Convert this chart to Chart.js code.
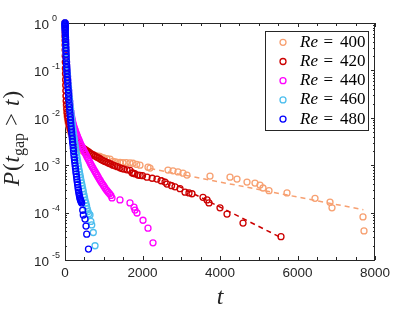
<!DOCTYPE html>
<html>
<head>
<meta charset="utf-8">
<script src="https://cdn.jsdelivr.net/npm/chart.js@4.4.1/dist/chart.umd.min.js"></script>
<style>
  html, body { margin: 0; padding: 0; background: #fff; }
  canvas { display: block; }
</style>
</head>
<body>
<canvas id="chart" width="415" height="312"></canvas>
<script>
// survival data: [t, P(t_gap > t)]
const re400 = [[0,1],[1,0.75],[2,0.58],[3,0.45],[4,0.35],[5,0.27],[6,0.21],[8,0.15],[10,0.11],[12,0.085],[14,0.066],[17,0.05],[20,0.038],[24,0.029],[28,0.022],[33,0.018],[39,0.015],[46,0.0125],[55,0.0106],[65,0.0093],[77,0.0082],[90,0.0073],[105,0.0065],[120,0.0058],[137,0.0052],[155,0.0047],[175,0.0043],[197,0.0039],[220,0.0036],[245,0.0033],[272,0.003],[300,0.0028],[330,0.0026],[360,0.0024],[392,0.0022],[425,0.0021],[460,0.002],[500,0.0019],[550,0.0018],[600,0.0017],[660,0.00165],[723,0.0016],[800,0.00157],[850,0.00155],[903,0.00153],[960,0.00145],[1000,0.00142],[1080,0.00138],[1161,0.00134],[1239,0.0012],[1300,0.00117],[1350,0.00115],[1420,0.00114],[1497,0.00113],[1580,0.00113],[1677,0.00112],[1755,0.0011],[1850,0.00104],[1935,0.001],[2142,0.00091],[2194,0.00087],[2658,0.00079],[2787,0.00076],[2916,0.00072],[3045,0.00068],[3148,0.00062],[3742,0.00059],[4258,0.00056],[4439,0.00051],[4697,0.00044],[4903,0.00042],[5032,0.00038],[5110,0.00033],[5265,0.00029],[5729,0.00026],[6452,0.0002],[6839,0.000166],[6890,0.000126],[7690,0.000081],[7716,0.000041]];
const re420 = [[0,1],[1,0.8],[2,0.65],[3,0.52],[4,0.42],[5,0.34],[6,0.27],[8,0.2],[10,0.15],[12,0.11],[14,0.085],[17,0.063],[20,0.048],[24,0.037],[28,0.029],[33,0.023],[39,0.019],[46,0.0155],[55,0.013],[65,0.011],[77,0.0096],[90,0.0084],[105,0.0074],[120,0.0066],[137,0.0059],[155,0.0053],[175,0.0048],[197,0.0044],[220,0.0041],[245,0.0038],[272,0.0035],[300,0.0032],[330,0.003],[360,0.0028],[392,0.0026],[425,0.0024],[460,0.0023],[495,0.0022],[530,0.0021],[570,0.002],[610,0.0019],[650,0.0018],[690,0.00172],[735,0.00164],[780,0.00156],[830,0.00148],[880,0.0014],[930,0.00132],[980,0.00125],[1030,0.0012],[1080,0.00115],[1130,0.0011],[1180,0.00106],[1239,0.001],[1290,0.00097],[1350,0.00093],[1419,0.00088],[1470,0.00085],[1520,0.00083],[1600,0.0008],[1677,0.00078],[1729,0.00069],[1760,0.00068],[1800,0.00066],[1884,0.00062],[1940,0.00061],[2000,0.0006],[2116,0.00056],[2250,0.00053],[2374,0.00051],[2480,0.00047],[2581,0.00044],[2632,0.0004],[2750,0.00037],[2839,0.00035],[2968,0.00032],[3097,0.00027],[3200,0.00026],[3277,0.00025],[3561,0.00021],[3665,0.000185],[3716,0.00016],[4000,0.000126],[4181,0.000093],[4594,0.00006],[5574,0.000031]];
const re440 = [[0,1],[1,0.95],[2,0.9],[3,0.85],[4,0.8],[6,0.72],[8,0.65],[10,0.58],[13,0.5],[16,0.43],[19,0.37],[23,0.31],[27,0.26],[31,0.22],[36,0.18],[41,0.15],[47,0.125],[53,0.105],[60,0.088],[67,0.074],[74,0.062],[82,0.052],[90,0.044],[98,0.037],[106,0.031],[115,0.026],[124,0.022],[133,0.0185],[142,0.0157],[152,0.0135],[163,0.0117],[175,0.0102],[188,0.009],[202,0.008],[217,0.0072],[232,0.0065],[248,0.0059],[265,0.0054],[282,0.0049],[300,0.0045],[320,0.0041],[340,0.0037],[360,0.0034],[380,0.0031],[402,0.0028],[424,0.0026],[446,0.0024],[468,0.0022],[490,0.002],[513,0.00185],[536,0.0017],[560,0.00155],[584,0.00142],[608,0.0013],[632,0.00119],[656,0.00109],[680,0.001],[705,0.00092],[730,0.00085],[755,0.00078],[780,0.00072],[806,0.00066],[832,0.00061],[858,0.00056],[885,0.00051],[912,0.00047],[940,0.00043],[968,0.0004],[996,0.00037],[1025,0.00034],[1055,0.00031],[1085,0.00029],[1115,0.00027],[1150,0.00025],[1185,0.00023],[1213,0.000204],[1419,0.000185],[1677,0.00016],[1781,0.00013],[1806,0.000113],[1858,0.000098],[2013,0.000069],[2142,0.000047],[2271,0.000023]];
const re460 = [[0,1],[1,0.95],[2,0.9],[3,0.85],[4,0.8],[6,0.72],[8,0.65],[10,0.58],[13,0.5],[16,0.43],[19,0.37],[23,0.31],[27,0.26],[31,0.22],[36,0.18],[41,0.15],[47,0.125],[53,0.105],[60,0.088],[67,0.074],[74,0.062],[82,0.052],[90,0.044],[98,0.037],[106,0.031],[115,0.026],[124,0.022],[133,0.0185],[142,0.0157],[152,0.0133],[162,0.0113],[172,0.0096],[182,0.0082],[192,0.007],[202,0.006],[212,0.0052],[222,0.0045],[233,0.0039],[244,0.0034],[255,0.0029],[266,0.0025],[277,0.0022],[288,0.0019],[300,0.00165],[312,0.00143],[324,0.00124],[336,0.00108],[348,0.00094],[360,0.00082],[373,0.00072],[386,0.00063],[400,0.00055],[414,0.00048],[428,0.00042],[442,0.00037],[457,0.00032],[472,0.00028],[488,0.00024],[504,0.00021],[520,0.00018],[538,0.00016],[556,0.00014],[575,0.00012],[595,0.000105],[618,0.000095],[645,0.000089],[668,0.000065],[690,0.000055],[730,0.000038],[775,0.00002]];
const re480 = [[0,1],[1,0.95],[2,0.9],[3,0.85],[4,0.8],[5,0.75],[6,0.7],[8,0.62],[10,0.55],[12,0.5],[14,0.45],[16,0.4],[18,0.35],[21,0.3],[24,0.26],[27,0.22],[30,0.19],[34,0.16],[38,0.135],[43,0.115],[48,0.1],[53,0.085],[58,0.072],[64,0.062],[70,0.053],[76,0.045],[82,0.039],[88,0.033],[95,0.028],[101,0.024],[108,0.02],[115,0.017],[122,0.0145],[129,0.0123],[136,0.0105],[143,0.009],[150,0.0077],[157,0.0066],[165,0.0057],[172,0.0049],[180,0.0042],[188,0.0036],[196,0.0031],[204,0.0027],[212,0.0023],[220,0.002],[228,0.0017],[236,0.00148],[245,0.00128],[253,0.00112],[262,0.00097],[271,0.00085],[280,0.00074],[289,0.00065],[298,0.00057],[307,0.0005],[316,0.00044],[325,0.00039],[335,0.00034],[345,0.0003],[355,0.00027],[365,0.00024],[375,0.00022],[385,0.0002],[395,0.00019],[405,0.00018],[415,0.00017],[431,0.00016],[457,0.000112],[472,0.000089],[516,0.000073],[542,0.000052],[560,0.000035],[606,0.000017]];

// dashed fits (end points)
const fit400 = [[2200,0.00085],[7700,0.000115]];
const fit420 = [[2500,0.00054],[5600,0.000029]];

const reLabels = ['400', '420', '440', '460', '480'];
const xTicks = [0, 2000, 4000, 6000, 8000];
const yExps = [0, -1, -2, -3, -4, -5];

const colors = ['#f7a071', '#cc0000', '#ff00ff', '#4dbeee', '#0000ff'];
const axisColor = '#262626';
const serif = '"Liberation Serif", "Times New Roman", serif';
const sans = '"Liberation Sans", Arial, sans-serif';

const allSeries = [re400, re420, re440, re460, re480];

const pts = arr => arr.map(([t, p]) => ({ x: t, y: p }));

const datasets = allSeries.map((s, i) => ({
  label: 'Re = ' + reLabels[i],
  data: pts(s),
  showLine: false,
  borderColor: colors[i],
  backgroundColor: 'rgba(0,0,0,0)',
  pointRadius: 3,
  pointBorderWidth: 1.3,
  clip: false,
  order: 5 - i
}));

[fit400, fit420].forEach((f, i) => {
  datasets.push({
    label: 'fit',
    data: pts(f),
    showLine: true,
    borderColor: colors[i],
    borderWidth: 1.5,
    borderDash: [5, 4],
    pointRadius: 0,
    order: 10
  });
});

function seg(ctx, x1, y1, x2, y2) {
  ctx.beginPath();
  ctx.moveTo(x1, y1);
  ctx.lineTo(x2, y2);
  ctx.stroke();
}

const frame = {
  id: 'frame',
  beforeDatasetsDraw(chart) {
    const { ctx, chartArea: a, scales: { x, y } } = chart;
    ctx.save();
    ctx.strokeStyle = axisColor;
    ctx.fillStyle = axisColor;
    ctx.lineWidth = 1;

    // x ticks every 500, inward, top and bottom
    for (let t = 0; t <= 8000; t += 500) {
      const px = Math.round(x.getPixelForValue(t)) + 0.5;
      const len = t % 2000 === 0 ? 4 : 3;
      seg(ctx, px, a.bottom, px, a.bottom - len);
      seg(ctx, px, a.top, px, a.top + len);
    }
    // y ticks, log decades + minors
    for (let e = -5; e <= 0; e++) {
      for (let m = 1; m <= 9; m++) {
        const v = m * Math.pow(10, e);
        if (v > 1) break;
        const py = Math.round(y.getPixelForValue(v)) + 0.5;
        const len = m === 1 ? 4 : 2;
        seg(ctx, a.left, py, a.left + len, py);
        seg(ctx, a.right, py, a.right - len, py);
      }
    }
    ctx.strokeRect(Math.round(a.left) + 0.5, Math.round(a.top) + 0.5,
                   Math.round(a.width) - 1, Math.round(a.height));

    // x tick labels
    ctx.font = '13.5px ' + sans;
    ctx.textAlign = 'center';
    ctx.textBaseline = 'middle';
    xTicks.forEach(t => ctx.fillText(String(t), x.getPixelForValue(t), a.bottom + 13));

    // y tick labels 10^e
    ctx.textAlign = 'left';
    yExps.forEach(e => {
      const py = y.getPixelForValue(Math.pow(10, e));
      ctx.font = '13.5px ' + sans;
      ctx.fillText('10', 34, py + 2);
      ctx.font = '9px ' + sans;
      ctx.fillText(e === 0 ? '0' : '-' + Math.abs(e), 52, py - 4);
    });

    // x title
    ctx.font = 'italic 24px ' + serif;
    ctx.textAlign = 'center';
    ctx.textBaseline = 'alphabetic';
    ctx.fillText('t', (a.left + a.right) / 2, 304);

    // y title P(t_gap > t)
    const parts = [
      { s: 'P', f: 'italic 23px ' + serif, dy: 0, pad: 1 },
      { s: '(', f: '23px ' + serif, dy: 0, pad: 1 },
      { s: 't', f: 'italic 23px ' + serif, dy: 0, pad: 0 },
      { s: 'gap', f: '16px ' + serif, dy: 5, pad: 7 },
      { s: '>', f: '23px ' + serif, dy: 0, pad: 7 },
      { s: 't', f: 'italic 23px ' + serif, dy: 0, pad: 1 },
      { s: ')', f: '23px ' + serif, dy: 0, pad: 0 }
    ];
    let total = 0;
    parts.forEach(p => { ctx.font = p.f; p.w = ctx.measureText(p.s).width; total += p.w + p.pad; });
    ctx.translate(19, (a.top + a.bottom) / 2 - 3);
    ctx.rotate(-Math.PI / 2);
    ctx.textAlign = 'left';
    let cx = -total / 2;
    parts.forEach(p => {
      ctx.font = p.f;
      ctx.fillText(p.s, cx, p.dy);
      cx += p.w + p.pad;
    });
    ctx.restore();
  },
  afterDraw(chart) {
    const { ctx } = chart;
    ctx.save();
    const bx = 265.5, by = 31.5, bw = 103, bh = 99;
    ctx.fillStyle = '#fff';
    ctx.fillRect(bx, by, bw, bh);
    ctx.strokeStyle = axisColor;
    ctx.lineWidth = 1;
    ctx.strokeRect(bx, by, bw, bh);
    ctx.textBaseline = 'middle';
    ctx.textAlign = 'left';
    reLabels.forEach((r, i) => {
      const cy = 42.3 + i * 19.2;
      ctx.strokeStyle = colors[i];
      ctx.lineWidth = 1.3;
      ctx.beginPath();
      ctx.arc(283, cy, 3, 0, Math.PI * 2);
      ctx.stroke();
      ctx.fillStyle = '#000';
      ctx.font = 'italic 17px ' + serif;
      ctx.fillText('Re', 300, cy);
      ctx.font = '17px ' + serif;
      ctx.fillText('=', 323.5, cy);
      ctx.fillText(r, 340, cy);
    });
    ctx.restore();
  }
};

new Chart(document.getElementById('chart'), {
  type: 'scatter',
  data: { datasets },
  options: {
    responsive: false,
    animation: false,
    devicePixelRatio: 1,
    layout: { padding: { left: 65, top: 23, right: 40, bottom: 52 } },
    plugins: { legend: { display: false }, tooltip: { enabled: false } },
    scales: {
      x: { type: 'linear', min: 0, max: 8000, display: false },
      y: { type: 'logarithmic', min: 1e-5, max: 1, display: false }
    }
  },
  plugins: [frame]
});
</script>
</body>
</html>
